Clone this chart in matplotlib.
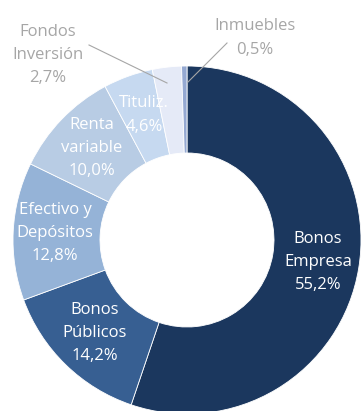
import matplotlib
matplotlib.use("Agg")
import matplotlib.pyplot as plt

plt.rcParams['font.family'] = ['Open Sans', 'DejaVu Sans']

labels = ["Bonos\nEmpresa", "Bonos\nPúblicos", "Efectivo y\nDepósitos",
          "Renta\nvariable", "Tituliz.", "Fondos\nInversión", "Inmuebles"]
values = [55.2, 14.2, 12.8, 10.0, 4.6, 2.7, 0.5]
colors = ["#1b375e", "#375f92", "#95b3d7", "#b8cce4", "#c6d9f0", "#e5eaf7", "#95a9d2"]

# label positions in pixels (x, y from top); slices too thin get an outside label
inside_pos = [(318, 262), (95, 333), (55, 233), (92, 148), (144, 115)]
outside_pos = [(48, 55), (255, 38)]
leader_lines = [((89, 45), (167, 83)), ((227, 43), (188, 82))]

W, H = 361, 411
cx, cy, R = 187, 240, 174


def to_data(px, py):
    return (px - cx) / R, (cy - py) / R


fig = plt.figure(figsize=(W / 100, H / 100), dpi=100)
ax = fig.add_axes([0, 0, 1, 1])
ax.pie(values, colors=colors, startangle=90, counterclock=False, radius=1,
       wedgeprops=dict(width=0.5, edgecolor="white", linewidth=0.6))
ax.set_xlim(to_data(0, 0)[0], to_data(W, 0)[0])
ax.set_ylim(to_data(0, H)[1], to_data(0, 0)[1])
ax.set_aspect("auto")
ax.axis("off")

fmt = lambda v: f"{v:.1f}%".replace(".", ",")

for i, (px, py) in enumerate(inside_pos):
    x, y = to_data(px, py)
    ax.text(x, y, labels[i] + "\n" + fmt(values[i]), color="white", fontsize=12,
            ha="center", va="center", linespacing=1.6)

for j, (px, py) in enumerate(outside_pos):
    i = len(inside_pos) + j
    x, y = to_data(px, py)
    ax.text(x, y, labels[i] + "\n" + fmt(values[i]), color="#a6a6a6", fontsize=12,
            ha="center", va="center", linespacing=1.6)

for (p0, p1) in leader_lines:
    x0, y0 = to_data(*p0)
    x1, y1 = to_data(*p1)
    ax.plot([x0, x1], [y0, y1], color="#a6a6a6", linewidth=0.8)

fig.savefig("out.png", dpi=100)
